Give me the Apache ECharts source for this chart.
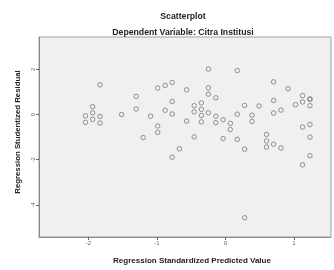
<!DOCTYPE html>
<html>
<head>
<meta charset="utf-8">
<script src="https://cdn.jsdelivr.net/npm/echarts@6/dist/echarts.min.js"></script>
<style>
html,body{margin:0;padding:0;background:#fff}
#chart{width:334px;height:270px}
</style>
</head>
<body>
<div id="chart"></div>
<script>
// predicted (standardized) and residual (studentized) values
var predicted = [
	-1.831, -1.937, -1.937, -2.042, -1.937, -1.831, -2.042, -1.831, -1.515, -1.303,
	-1.303, -1.200, -1.092, -0.988, -0.988, -0.988, -0.880, -0.880, -0.777, -0.777,
	-0.777, -0.777, -0.672, -0.566, -0.566, -0.456, -0.456, -0.456, -0.351, -0.351,
	-0.351, -0.351, -0.249, -0.249, -0.249, -0.249, -0.140, -0.140, -0.140, -0.034,
	-0.034, 0.071, 0.071, 0.173, 0.173, 0.173, 0.280, 0.280, 0.280, 0.388,
	0.388, 0.491, 0.599, 0.599, 0.599, 0.703, 0.703, 0.703, 0.703, 0.810,
	0.810, 0.914, 1.022, 1.125, 1.125, 1.125, 1.125, 1.233, 1.233, 1.233,
	1.233, 1.233, 1.233
]
var residual = [
	1.315, 0.347, 0.074, -0.056, -0.217, -0.087, -0.347, -0.377, 0.000, 0.803,
	0.247, -1.020, -0.074, 1.171, -0.508, -0.790, 1.289, 0.187, 1.419, 0.577,
	0.022, -1.887, -1.518, 1.093, -0.291, 0.390, 0.117, -0.989, 0.512, 0.230,
	-0.043, -0.325, 2.009, 1.180, 0.902, 0.078, 0.738, -0.078, -0.360, -0.230,
	-1.063, -0.390, -0.664, 1.944, 0.013, -1.098, 0.403, -1.531, -4.568, -0.030,
	-0.304, 0.377, -0.881, -1.171, -1.440, 1.445, 0.620, 0.065, -1.315, 0.195,
	-1.479, 1.141, 0.434, 0.837, 0.555, -0.555, -2.226, 0.672, 0.690, 0.390,
	-0.443, -0.998, -1.822
]
var xTicks = [-2, -1, 0, 1]
var yTicks = [2, 0, -2, -4]

var points = predicted.map(function(x, i){ return [x, residual[i]] })

var myChart = echarts.init(document.getElementById('chart'))
var option = {
	animation: false,
	textStyle: {fontFamily: 'Liberation Sans, Arial, sans-serif'},
	title: [
		{
			text: 'Scatterplot',
			left: 178, top: 7, textAlign: 'center',
			textStyle: {fontSize: 8.7, fontWeight: 'bold', color: '#222'}
		},
		{
			text: 'Dependent Variable: Citra Institusi',
			left: 178, top: 23, textAlign: 'center',
			textStyle: {fontSize: 8.7, fontWeight: 'bold', color: '#222'}
		}
	],
	grid: {
		left: 39, top: 37, right: 3, bottom: 28,
		show: true,
		backgroundColor: '#f0f0f0',
		borderColor: '#a0a0a0',
		borderWidth: 1
	},
	xAxis: {
		type: 'value',
		min: -2.72, max: 1.54,
		name: 'Regression Standardized Predicted Value',
		nameLocation: 'middle',
		nameGap: 20,
		nameTextStyle: {fontSize: 8, fontWeight: 'bold', color: '#222', padding: [0, 0, 0, 14]},
		axisLine: {show: true, onZero: false, lineStyle: {color: '#888'}},
		axisTick: {show: true, length: 3, customValues: xTicks, lineStyle: {color: '#666'}},
		axisLabel: {customValues: xTicks, fontSize: 6, color: '#666', margin: 3},
		splitLine: {show: false}
	},
	yAxis: {
		type: 'value',
		min: -5.42, max: 3.43,
		name: 'Regression Studentized Residual',
		nameLocation: 'middle',
		nameGap: 16,
		nameRotate: 90,
		nameTextStyle: {fontSize: 7.8, fontWeight: 'bold', color: '#222', padding: [0, 0, 0, 10]},
		axisLine: {show: true, onZero: false, lineStyle: {color: '#888'}},
		axisTick: {show: true, length: 3, customValues: yTicks, lineStyle: {color: '#666'}},
		axisLabel: {customValues: yTicks, fontSize: 6, color: '#666', margin: 3, rotate: 90},
		splitLine: {show: false}
	},
	series: [{
		type: 'scatter',
		data: points,
		symbol: 'circle',
		symbolSize: 4.5,
		itemStyle: {color: 'rgba(0,0,0,0)', borderColor: '#777', borderWidth: 1}
	}]
}
myChart.setOption(option)
</script>
</body>
</html>
